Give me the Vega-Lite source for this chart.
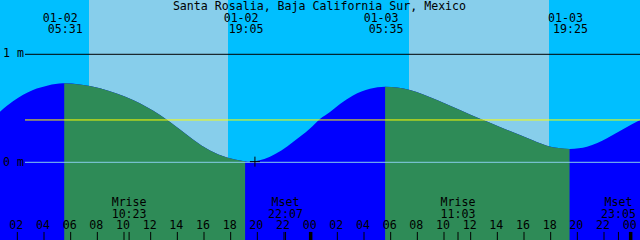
{
  "$schema": "https://vega.github.io/schema/vega-lite/v6.json",
  "width": 640,
  "height": 240,
  "autosize": {"type": "none"},
  "padding": 0,
  "background": "#00BFFF",
  "config": {
    "view": {"stroke": null, "fill": "#00BFFF"},
    "text": {"font": "DejaVu Sans Mono", "fontSize": 11.6, "color": "#000000", "baseline": "alphabetic"}
  },
  "data": {"values": [{"one": 1}]},
  "datasets": {
    "tide": [
      {"t": 0.70, "h": 0.468},
      {"t": 1.70, "h": 0.567},
      {"t": 3.175, "h": 0.669},
      {"t": 4.30, "h": 0.711},
      {"t": 5.425, "h": 0.731},
      {"t": 5.517, "h": 0.731},
      {"t": 6.70, "h": 0.720},
      {"t": 8.20, "h": 0.685},
      {"t": 9.45, "h": 0.637},
      {"t": 10.675, "h": 0.577},
      {"t": 11.70, "h": 0.512},
      {"t": 12.70, "h": 0.438},
      {"t": 13.45, "h": 0.373},
      {"t": 14.20, "h": 0.304},
      {"t": 15.175, "h": 0.211},
      {"t": 16.45, "h": 0.109},
      {"t": 17.725, "h": 0.044},
      {"t": 18.925, "h": 0.012},
      {"t": 19.083, "h": 0.009},
      {"t": 19.30, "h": 0.006},
      {"t": 20.10, "h": 0.017},
      {"t": 20.95, "h": 0.052},
      {"t": 21.80, "h": 0.109},
      {"t": 22.675, "h": 0.188},
      {"t": 23.95, "h": 0.313},
      {"t": 24.70, "h": 0.401},
      {"t": 25.45, "h": 0.466},
      {"t": 26.20, "h": 0.540},
      {"t": 27.175, "h": 0.619},
      {"t": 28.45, "h": 0.681},
      {"t": 29.575, "h": 0.700},
      {"t": 29.583, "h": 0.700},
      {"t": 30.50, "h": 0.693},
      {"t": 31.45, "h": 0.669},
      {"t": 32.45, "h": 0.628},
      {"t": 33.475, "h": 0.577},
      {"t": 35.20, "h": 0.484},
      {"t": 36.70, "h": 0.403},
      {"t": 38.20, "h": 0.328},
      {"t": 39.70, "h": 0.252},
      {"t": 40.70, "h": 0.202},
      {"t": 41.725, "h": 0.154},
      {"t": 42.60, "h": 0.132},
      {"t": 43.417, "h": 0.123},
      {"t": 43.45, "h": 0.123},
      {"t": 44.10, "h": 0.130},
      {"t": 44.725, "h": 0.144},
      {"t": 45.50, "h": 0.179},
      {"t": 46.225, "h": 0.222},
      {"t": 47.425, "h": 0.306},
      {"t": 48.70, "h": 0.392}
    ],
    "bands": [
      {"start": 7.375, "end": 17.80},
      {"start": 31.375, "end": 41.875}
    ],
    "hours": [
      {"t": 2, "label": "02"}, {"t": 4, "label": "04"}, {"t": 6, "label": "06"},
      {"t": 8, "label": "08"}, {"t": 10, "label": "10"}, {"t": 12, "label": "12"},
      {"t": 14, "label": "14"}, {"t": 16, "label": "16"}, {"t": 18, "label": "18"},
      {"t": 20, "label": "20"}, {"t": 22, "label": "22"}, {"t": 24, "label": "00"},
      {"t": 26, "label": "02"}, {"t": 28, "label": "04"}, {"t": 30, "label": "06"},
      {"t": 32, "label": "08"}, {"t": 34, "label": "10"}, {"t": 36, "label": "12"},
      {"t": 38, "label": "14"}, {"t": 40, "label": "16"}, {"t": 42, "label": "18"},
      {"t": 44, "label": "20"}, {"t": 46, "label": "22"}, {"t": 48, "label": "00"}
    ],
    "eventTicks": [
      {"t": 10.383}, {"t": 22.117}, {"t": 35.05}, {"t": 47.083}
    ],
    "midnights": [{"t": 24}, {"t": 48}],
    "sun": [
      {"t": 5.517, "date": "01-02", "time": "05:31"},
      {"t": 19.083, "date": "01-02", "time": "19:05"},
      {"t": 29.583, "date": "01-03", "time": "05:35"},
      {"t": 43.417, "date": "01-03", "time": "19:25"}
    ],
    "moon": [
      {"t": 10.383, "name": "Mrise", "time": "10:23"},
      {"t": 22.117, "name": "Mset", "time": "22:07"},
      {"t": 35.05, "name": "Mrise", "time": "11:03"},
      {"t": 47.083, "name": "Mset", "time": "23:05"}
    ],
    "ylabels": [
      {"h": 0.975, "label": "1 m"},
      {"h": -0.034, "label": "0 m"}
    ],
    "titles": [{"t": 24.66, "label": "Santa Rosalia, Baja California Sur, Mexico"}]
  },
  "layer": [
    {
      "data": {"name": "bands"},
      "mark": {"type": "rect", "color": "#87CEEB"},
      "encoding": {
        "x": {"field": "start", "type": "quantitative", "scale": {"domain": [0.7, 48.7], "nice": false, "zero": false}, "axis": null},
        "x2": {"field": "end"}
      }
    },
    {
      "data": {"name": "tide"},
      "mark": {"type": "area", "color": "#0000FF", "interpolate": "monotone", "clip": true},
      "encoding": {
        "x": {"field": "t", "type": "quantitative", "axis": null},
        "y": {"field": "h", "type": "quantitative", "scale": {"domain": [-0.7194, 1.5028], "nice": false, "zero": false}, "axis": null},
        "y2": {"datum": -0.7194}
      }
    },
    {
      "data": {"name": "tide"},
      "transform": [{"filter": "datum.t >= 5.517 && datum.t <= 19.083"}],
      "mark": {"type": "area", "color": "#2E8B57", "interpolate": "monotone", "clip": true},
      "encoding": {
        "x": {"field": "t", "type": "quantitative", "axis": null},
        "y": {"field": "h", "type": "quantitative", "axis": null},
        "y2": {"datum": -0.7194}
      }
    },
    {
      "data": {"name": "tide"},
      "transform": [{"filter": "datum.t >= 29.583 && datum.t <= 43.417"}],
      "mark": {"type": "area", "color": "#2E8B57", "interpolate": "monotone", "clip": true},
      "encoding": {
        "x": {"field": "t", "type": "quantitative", "axis": null},
        "y": {"field": "h", "type": "quantitative", "axis": null},
        "y2": {"datum": -0.7194}
      }
    },
    {
      "mark": {"type": "rule", "color": "#000000", "strokeWidth": 1},
      "encoding": {"x": {"datum": 2.575, "type": "quantitative", "axis": null}, "x2": {"datum": 48.7}, "y": {"datum": 1, "type": "quantitative", "axis": null}}
    },
    {
      "mark": {"type": "rule", "color": "#FFFF00", "strokeWidth": 1},
      "encoding": {"x": {"datum": 2.575, "type": "quantitative", "axis": null}, "x2": {"datum": 48.7}, "y": {"datum": 0.392, "type": "quantitative", "axis": null}}
    },
    {
      "mark": {"type": "rule", "color": "#87CEEB", "strokeWidth": 1},
      "encoding": {"x": {"datum": 2.575, "type": "quantitative", "axis": null}, "x2": {"datum": 48.7}, "y": {"datum": 0.0, "type": "quantitative", "axis": null}}
    },
    {
      "mark": {"type": "point", "shape": "M-1,0L1,0M0,-1L0,1", "size": 100, "stroke": "#000000", "strokeWidth": 1, "filled": false, "opacity": 1},
      "encoding": {"x": {"datum": 19.82, "type": "quantitative", "axis": null}, "y": {"datum": 0.006, "type": "quantitative", "axis": null}}
    },
    {
      "data": {"name": "hours"},
      "mark": {"type": "rule", "color": "#000000", "strokeWidth": 1},
      "encoding": {
        "x": {"field": "t", "type": "quantitative", "axis": null},
        "y": {"datum": -0.645, "type": "quantitative", "axis": null},
        "y2": {"datum": -0.7194}
      }
    },
    {
      "data": {"name": "eventTicks"},
      "mark": {"type": "rule", "color": "#000000", "strokeWidth": 1},
      "encoding": {
        "x": {"field": "t", "type": "quantitative", "axis": null},
        "y": {"datum": -0.645, "type": "quantitative", "axis": null},
        "y2": {"datum": -0.7194}
      }
    },
    {
      "data": {"name": "midnights"},
      "mark": {"type": "rule", "color": "#000000", "strokeWidth": 3.5},
      "encoding": {
        "x": {"field": "t", "type": "quantitative", "axis": null},
        "y": {"datum": -0.645, "type": "quantitative", "axis": null},
        "y2": {"datum": -0.7194}
      }
    },
    {
      "data": {"name": "hours"},
      "mark": {"type": "text", "align": "center", "dx": -1},
      "encoding": {
        "x": {"field": "t", "type": "quantitative", "axis": null},
        "y": {"datum": -0.618, "type": "quantitative", "axis": null},
        "text": {"field": "label"}
      }
    },
    {
      "data": {"name": "titles"},
      "mark": {"type": "text", "align": "center"},
      "encoding": {
        "x": {"field": "t", "type": "quantitative", "axis": null},
        "y": {"datum": 1.414, "type": "quantitative", "axis": null},
        "text": {"field": "label"}
      }
    },
    {
      "data": {"name": "sun"},
      "mark": {"type": "text", "align": "center", "dx": -4},
      "encoding": {
        "x": {"field": "t", "type": "quantitative", "axis": null},
        "y": {"datum": 1.302, "type": "quantitative", "axis": null},
        "text": {"field": "date"}
      }
    },
    {
      "data": {"name": "sun"},
      "mark": {"type": "text", "align": "center", "dx": 1},
      "encoding": {
        "x": {"field": "t", "type": "quantitative", "axis": null},
        "y": {"datum": 1.193, "type": "quantitative", "axis": null},
        "text": {"field": "time"}
      }
    },
    {
      "data": {"name": "moon"},
      "mark": {"type": "text", "align": "center"},
      "encoding": {
        "x": {"field": "t", "type": "quantitative", "axis": null},
        "y": {"datum": -0.407, "type": "quantitative", "axis": null},
        "text": {"field": "name"}
      }
    },
    {
      "data": {"name": "moon"},
      "mark": {"type": "text", "align": "center"},
      "encoding": {
        "x": {"field": "t", "type": "quantitative", "axis": null},
        "y": {"datum": -0.519, "type": "quantitative", "axis": null},
        "text": {"field": "time"}
      }
    },
    {
      "data": {"name": "ylabels"},
      "mark": {"type": "text", "align": "left"},
      "encoding": {
        "x": {"datum": 0.925, "type": "quantitative", "axis": null},
        "y": {"field": "h", "type": "quantitative", "axis": null},
        "text": {"field": "label"}
      }
    }
  ]
}
